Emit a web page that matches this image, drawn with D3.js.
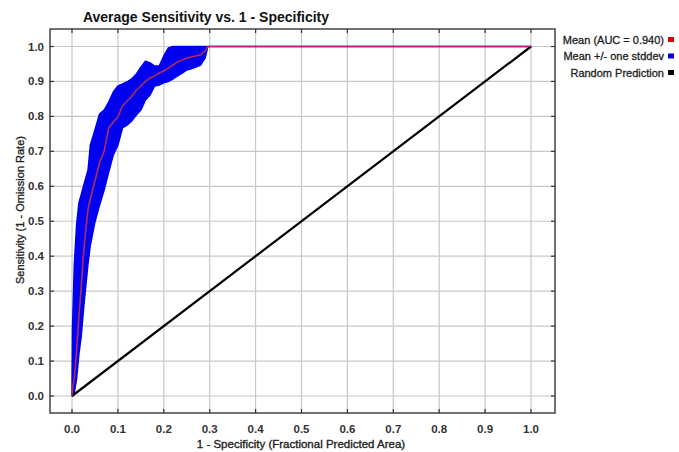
<!DOCTYPE html>
<html>
<head>
<meta charset="utf-8">
<script src="https://cdn.jsdelivr.net/npm/d3@7"></script>
<style>
  body { margin: 0; background: #fff; }
  svg { display: block; font-family: "Liberation Sans", Arial, sans-serif; }
</style>
</head>
<body>
<div id="main"></div>
<script>
// 1 - specificity sample points
const fpr = [0, 0.001, 0.005, 0.01, 0.015, 0.02, 0.025, 0.03, 0.035, 0.04, 0.05, 0.06, 0.07, 0.08, 0.09,
  0.1, 0.11, 0.12, 0.13, 0.14, 0.15, 0.16, 0.17, 0.18, 0.19, 0.2, 0.21, 0.22, 0.23, 0.24, 0.25,
  0.26, 0.27, 0.28, 0.29, 0.296, 0.3, 1.0];

const meanTpr = [0, 0.02, 0.049, 0.129, 0.226, 0.31, 0.406, 0.475, 0.535, 0.565, 0.615, 0.667, 0.70, 0.767, 0.784,
  0.798, 0.83, 0.844, 0.857, 0.875, 0.887, 0.90, 0.91, 0.916, 0.924, 0.93, 0.938, 0.947, 0.956, 0.961, 0.967,
  0.970, 0.973, 0.976, 0.987, 1.0, 1.0, 1.0];

const upperTpr = [0, 0.19, 0.375, 0.49, 0.552, 0.575, 0.60, 0.624, 0.647, 0.718, 0.761, 0.807, 0.818, 0.841, 0.87,
  0.887, 0.893, 0.899, 0.907, 0.921, 0.941, 0.958, 0.953, 0.944, 0.944, 0.973, 0.996, 1.0, 1.0, 1.0, 1.0,
  1.0, 1.0, 1.0, 1.0, 1.0, 1.0, 1.0];

const lowerTpr = [0, 0, 0.01, 0.05, 0.12, 0.17, 0.246, 0.315, 0.38, 0.432, 0.498, 0.546, 0.589, 0.641, 0.69,
  0.718, 0.767, 0.775, 0.787, 0.804, 0.818, 0.847, 0.861, 0.887, 0.89, 0.896, 0.90, 0.907, 0.916, 0.924, 0.933,
  0.936, 0.941, 0.947, 0.967, 1.0, 1.0, 1.0];

const randomX = [0, 1];
const randomY = [0, 1];

const tickValues = [0, 0.1, 0.2, 0.3, 0.4, 0.5, 0.6, 0.7, 0.8, 0.9, 1.0];

const legendItems = [
  { label: "Mean (AUC = 0.940)", color: "#e00000" },
  { label: "Mean +/- one stddev", color: "#0000f0" },
  { label: "Random Prediction", color: "#000000" }
];

const width = 679;
const height = 452;
const frame = { left: 50, right: 555, top: 29, bottom: 413 };

const svg = d3.select("#main").append("svg")
  .attr("width", width)
  .attr("height", height);

const x = d3.scaleLinear().domain([0, 1]).range([72, 531]);
const y = d3.scaleLinear().domain([0, 1]).range([396, 46.5]);

// grid
svg.append("g")
  .attr("class", "grid")
  .selectAll("line.v")
  .data(tickValues)
  .enter()
  .append("line")
  .attr("x1", (d) => x(d))
  .attr("x2", (d) => x(d))
  .attr("y1", frame.top)
  .attr("y2", frame.bottom)
  .attr("stroke", "#c8c8c8")
  .attr("stroke-width", 1.2);

svg.append("g")
  .attr("class", "grid")
  .selectAll("line.h")
  .data(tickValues)
  .enter()
  .append("line")
  .attr("x1", frame.left)
  .attr("x2", frame.right)
  .attr("y1", (d) => y(d))
  .attr("y2", (d) => y(d))
  .attr("stroke", "#c8c8c8")
  .attr("stroke-width", 1.2);

// std band
const band = fpr.map((f, i) => ({ f, lo: lowerTpr[i], hi: upperTpr[i], m: meanTpr[i] }));

svg.append("path")
  .datum(band)
  .attr("fill", "#0000f0")
  .attr("stroke", "#0000f0")
  .attr("stroke-width", 1.5)
  .attr("stroke-linejoin", "round")
  .attr("d", d3.area()
    .x((d) => x(d.f))
    .y0((d) => y(d.lo))
    .y1((d) => y(d.hi)));

// random prediction
svg.append("path")
  .datum(randomX.map((v, i) => [v, randomY[i]]))
  .attr("fill", "none")
  .attr("stroke", "#000")
  .attr("stroke-width", 2.2)
  .attr("d", d3.line().x((d) => x(d[0])).y((d) => y(d[1])));

// mean curve
svg.append("path")
  .datum(band)
  .attr("fill", "none")
  .attr("stroke", "#b02c58")
  .attr("stroke-width", 1.6)
  .attr("d", d3.line().x((d) => x(d.f)).y((d) => y(d.m)));

// frame
svg.append("rect")
  .attr("x", frame.left)
  .attr("y", frame.top)
  .attr("width", frame.right - frame.left)
  .attr("height", frame.bottom - frame.top)
  .attr("fill", "none")
  .attr("stroke", "#444")
  .attr("stroke-width", 1.5);

// inward tick marks
const tickLen = 4;
const ticks = svg.append("g").attr("stroke", "#333").attr("stroke-width", 1.2);
tickValues.forEach((t) => {
  ticks.append("line").attr("x1", x(t)).attr("x2", x(t)).attr("y1", frame.bottom).attr("y2", frame.bottom - tickLen);
  ticks.append("line").attr("x1", x(t)).attr("x2", x(t)).attr("y1", frame.top).attr("y2", frame.top + tickLen);
  ticks.append("line").attr("x1", frame.left).attr("x2", frame.left + tickLen).attr("y1", y(t)).attr("y2", y(t));
  ticks.append("line").attr("x1", frame.right).attr("x2", frame.right - tickLen).attr("y1", y(t)).attr("y2", y(t));
});

// tick labels
svg.append("g")
  .selectAll("text")
  .data(tickValues)
  .enter()
  .append("text")
  .attr("x", (d) => x(d))
  .attr("y", 433)
  .attr("text-anchor", "middle")
  .attr("font-size", 11.5)
  .attr("font-weight", "bold")
  .attr("fill", "#333")
  .text((d) => d.toFixed(1));

svg.append("g")
  .selectAll("text")
  .data(tickValues)
  .enter()
  .append("text")
  .attr("x", 44)
  .attr("y", (d) => y(d))
  .attr("dy", "0.35em")
  .attr("text-anchor", "end")
  .attr("font-size", 11.5)
  .attr("font-weight", "bold")
  .attr("fill", "#333")
  .text((d) => d.toFixed(1));

// titles
svg.append("text")
  .attr("x", 206)
  .attr("y", 22)
  .attr("text-anchor", "middle")
  .attr("font-size", 14)
  .attr("font-weight", "bold")
  .attr("fill", "#111")
  .text("Average Sensitivity vs. 1 - Specificity");

svg.append("text")
  .attr("x", 301)
  .attr("y", 448)
  .attr("text-anchor", "middle")
  .attr("font-size", 11.5)
  .attr("fill", "#222")
  .attr("stroke", "#222")
  .attr("stroke-width", 0.35)
  .text("1 - Specificity (Fractional Predicted Area)");

svg.append("text")
  .attr("transform", "translate(24,210) rotate(-90)")
  .attr("text-anchor", "middle")
  .attr("font-size", 11)
  .attr("fill", "#222")
  .attr("stroke", "#222")
  .attr("stroke-width", 0.3)
  .text("Sensitivity (1 - Omission Rate)");

// legend
const legend = svg.append("g").attr("class", "legend");
legend.selectAll("text")
  .data(legendItems)
  .enter()
  .append("text")
  .attr("x", 664)
  .attr("y", (d, i) => 40 + i * 16.5)
  .attr("dy", "0.35em")
  .attr("text-anchor", "end")
  .attr("font-size", 11)
  .attr("fill", "#222")
  .attr("stroke", "#222")
  .attr("stroke-width", 0.3)
  .text((d) => d.label);

legend.selectAll("rect")
  .data(legendItems)
  .enter()
  .append("rect")
  .attr("x", 668)
  .attr("y", (d, i) => 40 + i * 16.5 - 3)
  .attr("width", 6)
  .attr("height", 5)
  .attr("fill", (d) => d.color);
</script>
</body>
</html>
